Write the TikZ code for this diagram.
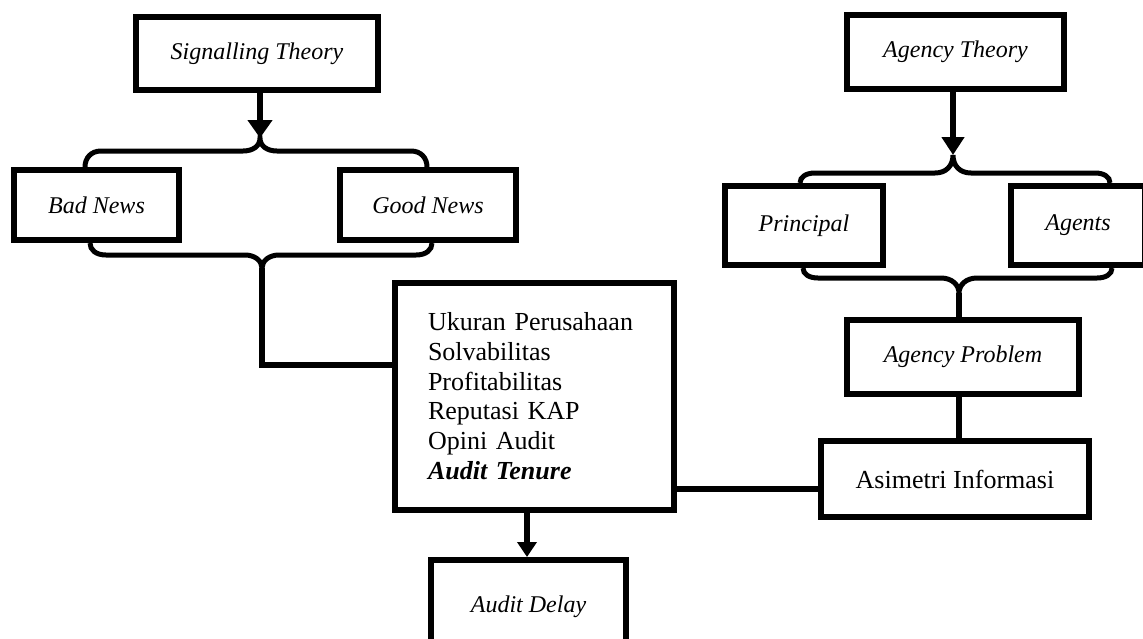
\documentclass[tikz,border=0pt]{standalone}
\usepackage{fontspec}
\setmainfont{Liberation Serif}
\usetikzlibrary{arrows.meta,calc}
\begin{document}
\begin{tikzpicture}[x=1pt,y=-1pt,
  rbox/.style={draw,line width=6pt,inner sep=0pt,font=\fontsize{26}{29.7}\selectfont},
  ibox/.style={rbox,font=\fontsize{24}{28}\selectfont\itshape},
  conn/.style={line width=6pt,line join=miter},
  brc/.style={line width=5pt},
  arrS/.style={-{Triangle[width=24pt,length=18pt]}},
  arrA/.style={-{Triangle[width=22pt,length=18pt]}},
  arrD/.style={-{Triangle[width=19pt,length=15pt]}}]
\useasboundingbox (0,0) rectangle (1143,638);
\clip (0,0) rectangle (1143,638);
\node[ibox,minimum width=242pt,minimum height=73pt] (sig) at (257,53.5) {Signalling Theory};
\node[ibox,minimum width=217pt,minimum height=74pt] (agt) at (955.5,52) {Agency Theory};
\node[ibox,minimum width=165pt,minimum height=70pt] (bad) at (96.5,205) {Bad News};
\node[ibox,minimum width=176pt,minimum height=70pt] (good) at (428,205) {Good News};
\node[ibox,minimum width=158pt,minimum height=79pt] (prin) at (804,225.5) {Principal};
\node[ibox,minimum width=134pt,minimum height=79pt] (agen) at (1078,225.5) {Agents};
\node[rbox,minimum width=279pt,minimum height=227pt,align=left,text width=213pt] (uk) at (534.5,396)
  {Ukuran Perusahaan\\Solvabilitas\\Profitabilitas\\Reputasi KAP\\Opini Audit\\\textbf{\textit{Audit Tenure}}};
\node[ibox,minimum width=232pt,minimum height=74pt] (prob) at (963,357) {Agency Problem};
\node[rbox,minimum width=268pt,minimum height=76pt] (asim) at (955,479) {Asimetri Informasi};
\node[ibox,minimum width=195pt,minimum height=94pt] (delay) at (528.5,607) {Audit Delay};
\coordinate (c1) at (260,138);
\coordinate (c2) at (262,268);
\coordinate (c3) at (953,155);
\coordinate (c4) at (959,293);
% left side
\draw[conn,arrS] (sig.south -| c1) -- (c1);
\draw[brc] (85,0 |- bad.north) .. controls (85,158) and (91,151) .. (101,151) -- (243,151)
  .. controls (253,151) and (260,146) .. (c1) .. controls (260,146) and (267,151) .. (277,151)
  -- (411,151) .. controls (421,151) and (427,158) .. (427,0 |- good.north);
\draw[brc] (90,0 |- bad.south) .. controls (90,250) and (96,255) .. (106,255) -- (245,255)
  .. controls (255,255) and (262,261) .. (c2) .. controls (262,261) and (269,255) .. (279,255)
  -- (416,255) .. controls (426,255) and (432,250) .. (432,0 |- good.south);
\draw[conn] (c2) |- (uk.west |- 0,365);
% right side
\draw[conn,arrA] (agt.south -| c3) -- (c3);
\draw[brc] (800,0 |- prin.north) .. controls (800,177) and (806,173) .. (815,173) -- (935,173)
  .. controls (946,173) and (953,166) .. (c3) .. controls (953,166) and (960,173) .. (971,173)
  -- (1095,173) .. controls (1104,173) and (1110,177) .. (1110,0 |- agen.north);
\draw[brc] (803,0 |- prin.south) .. controls (803,274) and (809,278) .. (818,278) -- (941,278)
  .. controls (952,278) and (959,285) .. (c4) .. controls (959,285) and (966,278) .. (977,278)
  -- (1097,278) .. controls (1106,278) and (1112,274) .. (1112,0 |- agen.south);
\draw[conn] (c4) -- (c4 |- prob.north);
\draw[conn] (prob.south -| c4) -- (asim.north -| c4);
\draw[conn] (uk.east |- 0,489) -- (asim.west |- 0,489);
\draw[conn,arrD] (uk.south -| 527,0) -- (delay.north -| 527,0);
\end{tikzpicture}
\end{document}
